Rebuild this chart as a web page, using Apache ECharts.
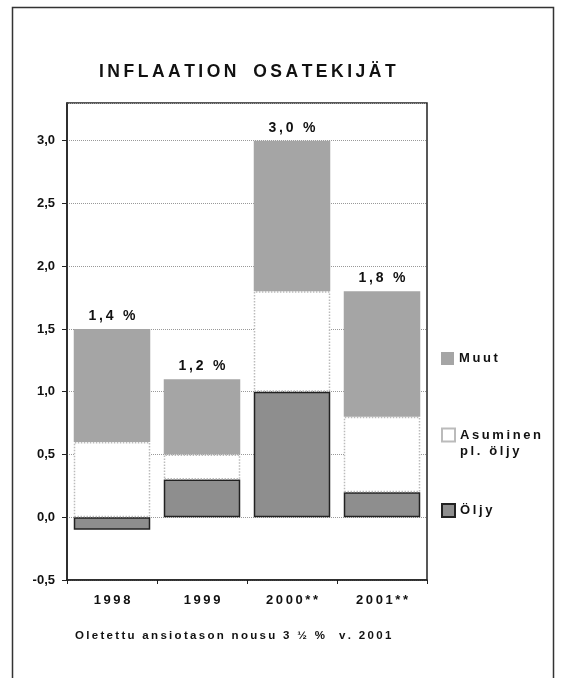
<!DOCTYPE html>
<html>
<head>
<meta charset="utf-8">
<script src="https://cdn.jsdelivr.net/npm/echarts@6/dist/echarts.min.js"></script>
<style>
  html, body { margin: 0; padding: 0; background: #fff; }
  #chart { width: 564px; height: 678px; }
</style>
</head>
<body>
<div id="chart"></div>
<script>
// data
var years = ['1998', '1999', '2000**', '2001**'];
var oljy = [-0.1, 0.3, 1.0, 0.2];
var asuminen = [0.6, 0.2, 0.8, 0.6];
var muut = [0.9, 0.6, 1.2, 1.0];
var totals = ['1,4 %', '1,2 %', '3,0 %', '1,8 %'];
var yTicks = { min: -0.5, max: 3.3, step: 0.5 };

var font = 'Liberation Sans, Arial, sans-serif';

// wide letter spacing like the original print
function spaced(s) {
  return s.split(' ').map(function (w) {
    return w.split('').join('\u2009');
  }).join('\u2009\u00a0\u2009');
}

var chart = echarts.init(document.getElementById('chart'));

var legendText = { fontFamily: font, fontWeight: 'bold', fontSize: 13, color: '#111' };

var option = {
  backgroundColor: '#fff',
  animation: false,
  title: [{
    text: spaced('INFLAATION') + '\u2009\u00a0\u00a0\u2009' + spaced('OSATEKIJÄT'),
    left: 99, top: 63, padding: 0,
    textStyle: { fontFamily: font, fontWeight: 'bold', fontSize: 17.5, color: '#111' }
  }, {
    text: spaced('Oletettu ansiotason nousu 3 ½ %') + '\u2009\u00a0\u00a0\u00a0\u2009' + spaced('v. 2001'),
    left: 75, top: 630, padding: 0,
    textStyle: { fontFamily: font, fontWeight: 'bold', fontSize: 11.5, color: '#111' }
  }],
  legend: [{
    data: ['Muut'], orient: 'vertical', left: 441, top: 352, padding: 0,
    icon: 'rect', itemWidth: 13, itemHeight: 13,
    formatter: function (n) { return spaced(n); },
    textStyle: legendText
  }, {
    data: ['Asuminen'], orient: 'vertical', left: 441, top: 411, padding: 0,
    icon: 'rect', itemWidth: 13, itemHeight: 13,
    // empty first line keeps the icon level with "Asuminen"
    formatter: function () { return '\n' + spaced('Asuminen') + '\n' + spaced('pl. öljy'); },
    textStyle: { fontFamily: font, fontWeight: 'bold', fontSize: 13, color: '#111', lineHeight: 16 }
  }, {
    data: ['Öljy'], orient: 'vertical', left: 441, top: 503, padding: 0,
    icon: 'rect', itemWidth: 13, itemHeight: 13,
    formatter: function (n) { return spaced(n); },
    textStyle: legendText
  }],
  grid: {
    left: 67, right: 137, top: 103, bottom: 98,
    show: true, borderColor: '#222', borderWidth: 1.5, backgroundColor: '#fff'
  },
  xAxis: {
    type: 'category',
    data: years,
    axisLine: { onZero: false, lineStyle: { color: '#222', width: 1.5 } },
    axisTick: { show: true, length: 4, lineStyle: { color: '#222' } },
    axisLabel: {
      fontFamily: font, fontWeight: 'bold', fontSize: 13, color: '#111', margin: 14,
      formatter: function (v) { return spaced(v); }
    }
  },
  yAxis: {
    type: 'value',
    min: yTicks.min, max: yTicks.max, interval: yTicks.step,
    axisLine: { show: true, lineStyle: { color: '#222', width: 1.5 } },
    axisTick: { show: true, length: 5, lineStyle: { color: '#222' } },
    splitLine: { lineStyle: { color: '#999', type: 'dotted' } },
    axisLabel: {
      fontFamily: font, fontWeight: 'bold', fontSize: 13, color: '#111', margin: 12,
      showMaxLabel: false,
      formatter: function (v) { return v.toFixed(1).replace('.', ','); }
    }
  },
  series: [{
    name: 'Öljy', type: 'bar', stack: 'total', data: oljy, barWidth: '85%',
    itemStyle: { color: '#8e8e8e', borderColor: '#222', borderWidth: 1.5 }
  }, {
    name: 'Asuminen', type: 'bar', stack: 'total', data: asuminen,
    itemStyle: { color: '#fff', borderColor: '#bbb', borderWidth: 1.5, borderType: 'dotted' }
  }, {
    name: 'Muut', type: 'bar', stack: 'total', data: muut,
    itemStyle: { color: '#a5a5a5' },
    label: {
      show: true, position: 'top', distance: 6,
      fontFamily: font, fontWeight: 'bold', fontSize: 14, color: '#111',
      formatter: function (p) { return spaced(totals[p.dataIndex]); }
    }
  }],
  graphic: [{
    type: 'rect', left: 10, top: 5, silent: true, z: -10,
    shape: { width: 541, height: 700 },
    style: { fill: 'none', stroke: '#333', lineWidth: 1.5 }
  }]
};

chart.setOption(option);
</script>
</body>
</html>
